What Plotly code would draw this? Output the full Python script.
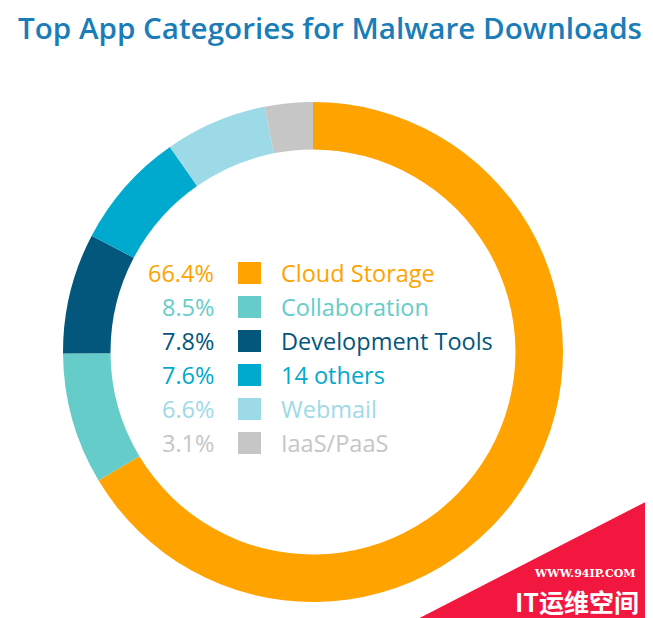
import plotly.graph_objects as go

categories = ["Cloud Storage", "Collaboration", "Development Tools", "14 others", "Webmail", "IaaS/PaaS"]
shares = [66.4, 8.5, 7.8, 7.6, 6.6, 3.1]
pct_labels = ["66.4%", "8.5%", "7.8%", "7.6%", "6.6%", "3.1%"]
colors = ["#FFA300", "#66CCC9", "#03577C", "#00A9CE", "#9DDAE7", "#C6C6C6"]

W, H = 653, 618
OFF = 8  # page body margin
cx, cy, R = 313 - OFF, 352 - OFF, 250

def px(x):
    return x / W

def py(y):
    return 1 - y / H

fig = go.Figure()
fig.add_trace(go.Pie(
    labels=categories, values=shares, sort=False, direction="clockwise", rotation=0,
    hole=0.81, marker=dict(colors=colors, line=dict(width=0)),
    textinfo="none", showlegend=False,
    domain=dict(x=[px(cx - R), px(cx + R)], y=[py(cy + R), py(cy - R)]),
))

font = "Open Sans"
row0, step = 273 - OFF, 34
ann = []
shapes = []
for i, (c, p, col) in enumerate(zip(categories, pct_labels, colors)):
    y = row0 + i * step
    ann.append(dict(x=px(216 - OFF), y=py(y), xref="paper", yref="paper", text=p, showarrow=False,
                    xanchor="right", yanchor="middle", font=dict(family=font, size=23.5, color=col)))
    ann.append(dict(x=px(279 - OFF), y=py(y), xref="paper", yref="paper", text=c, showarrow=False,
                    xanchor="left", yanchor="middle", font=dict(family=font, size=23.5, color=col)))
    shapes.append(dict(type="rect", xref="paper", yref="paper", x0=px(238 - OFF), x1=px(261 - OFF),
                       y0=py(y + 11), y1=py(y - 11), fillcolor=col, line=dict(width=0)))

ann.append(dict(x=px(16 - OFF), y=py(27 - OFF), xref="paper", yref="paper",
                text="Top App Categories for Malware Downloads", showarrow=False,
                xanchor="left", yanchor="middle",
                font=dict(family=font, size=29.6, color="#1A7DB8", weight=600)))

# watermark
shapes.append(dict(type="path", xref="paper", yref="paper", layer="above",
                   path=f"M {px(653)} {py(486)} L {px(653)} {py(618)} L {px(396)} {py(618)} Z",
                   fillcolor="#F2173F", line=dict(width=0)))
ann.append(dict(x=px(584 - OFF), y=py(573 - OFF), xref="paper", yref="paper", text="<b>WWW.94IP.COM</b>",
                showarrow=False, xanchor="center", yanchor="middle",
                font=dict(family="DejaVu Serif", size=11, color="white")))
ann.append(dict(x=px(577 - OFF), y=py(601 - OFF), xref="paper", yref="paper", text="<b>IT运维空间</b>",
                showarrow=False, xanchor="center", yanchor="middle",
                font=dict(family="Noto Sans CJK SC", size=25, color="white")))

fig.update_layout(width=W, height=H, margin=dict(l=0, r=0, t=0, b=0),
                  paper_bgcolor="white", plot_bgcolor="white",
                  annotations=ann, shapes=shapes)
fig.write_html("out.html")
